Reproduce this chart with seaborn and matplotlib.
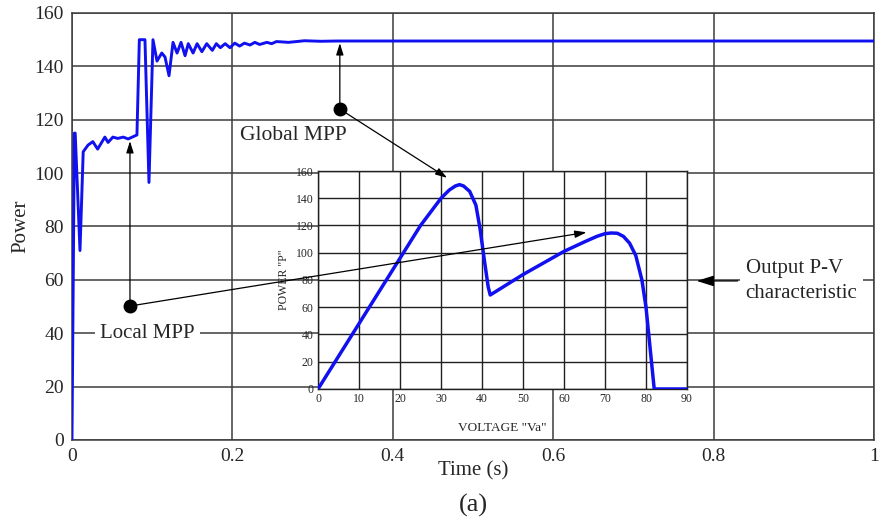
import pandas as pd
import seaborn as sns
import matplotlib.pyplot as plt

# -----------------------------
# Data
# -----------------------------
time_s = [0.000, 0.003, 0.004, 0.010, 0.014, 0.020, 0.026, 0.032, 0.041, 0.045,
          0.051, 0.057, 0.064, 0.070, 0.081, 0.084, 0.091, 0.096, 0.101, 0.106,
          0.112, 0.116, 0.121, 0.126, 0.131, 0.136, 0.141, 0.145, 0.151, 0.156,
          0.162, 0.168, 0.175, 0.180, 0.185, 0.191, 0.197, 0.203, 0.209, 0.215,
          0.222, 0.228, 0.234, 0.243, 0.249, 0.255, 0.270, 0.290, 0.310, 0.330,
          1.000]
power = [0, 115, 115, 71, 108, 110.5, 111.8, 109, 113.5, 111.5,
         113.5, 113, 113.5, 112.8, 114.3, 150, 150, 96.5, 150, 142,
         145, 143.5, 136.5, 149, 145, 149, 144, 148.5, 145, 148.5,
         145.5, 148.5, 146, 148.5, 147, 148.5, 147, 148.7, 147.6, 148.7,
         148, 149, 148.2, 149, 148.5, 149.3, 149, 149.6, 149.4, 149.5,
         149.5]

voltage = [0, 5, 10, 15, 20, 25, 28, 30, 32, 33.5, 34.5, 35.5, 37, 38.5, 39.5,
           40.5, 41.5, 42, 50, 60, 65, 68, 70, 71.5, 73, 74.5, 76, 77.5, 79,
           80, 81, 82, 90]
pv_power = [0, 24, 48, 72, 96, 120, 132, 140, 146, 149, 150, 149, 145, 135, 118,
            96, 75, 69, 84, 101, 108, 112, 114, 114.5, 114.3, 112, 107, 98, 80,
            60, 30, 0, 0]

time_ticks = [0, 0.2, 0.4, 0.6, 0.8, 1]
time_tick_labels = ['0', '0.2', '0.4', '0.6', '0.8', '1']
power_ticks = [0, 20, 40, 60, 80, 100, 120, 140, 160]
volt_ticks = [0, 10, 20, 30, 40, 50, 60, 70, 80, 90]

df_t = pd.DataFrame({'Time': time_s, 'Power': power})
df_pv = pd.DataFrame({'V': voltage, 'P': pv_power})

# -----------------------------
# Style
# -----------------------------
sns.set_style('white')
plt.rcParams['font.family'] = ['Liberation Serif', 'DejaVu Serif']

grid_col = '#3c3c3c'
line_col = '#1010f0'

fig = plt.figure(figsize=(8.81, 5.26), dpi=100)

# -----------------------------
# Main plot: power vs time
# -----------------------------
ax = fig.add_axes([0.0817, 0.1635, 0.9103, 0.8118])
sns.lineplot(x='Time', y='Power', data=df_t, ax=ax, color=line_col,
             linewidth=2.1, estimator=None, sort=False, zorder=3)
ax.set_xlim(0, 1)
ax.set_ylim(0, 160)
ax.set_xticks(time_ticks)
ax.set_xticklabels(time_tick_labels)
ax.set_yticks(power_ticks)
ax.grid(True, color=grid_col, linewidth=1.1)
ax.tick_params(length=0, labelsize=14, pad=6)
ax.set_xlabel('Time (s)', fontsize=15, labelpad=-3)
ax.set_ylabel('Power', fontsize=15, labelpad=3)
for s in ax.spines.values():
    s.set_color(grid_col)
    s.set_linewidth(1.1)

fig.text(0.537, 0.04, '(a)', fontsize=19, ha='center', va='center')

# -----------------------------
# Inset: P-V characteristic
# -----------------------------
ax_in = fig.add_axes([0.361, 0.2605, 0.4188, 0.4144])
ax_in.set_facecolor('white')
sns.lineplot(x='V', y='P', data=df_pv, ax=ax_in, color=line_col,
             linewidth=2.5, estimator=None, sort=False, zorder=3)
ax_in.set_xlim(0, 90)
ax_in.set_ylim(0, 160)
ax_in.set_xticks(volt_ticks)
ax_in.set_yticks(power_ticks)
ax_in.grid(True, color='#202020', linewidth=1.0)
ax_in.tick_params(length=0, labelsize=8.5, pad=3)
ax_in.set_xlabel('VOLTAGE "Va"', fontsize=9.5, labelpad=12)
ax_in.set_ylabel('POWER "P"', fontsize=8.5)
ax_in.yaxis.set_label_coords(-0.075, 0.5)
for s in ax_in.spines.values():
    s.set_color('#202020')
    s.set_linewidth(1.0)

# -----------------------------
# Annotations
# -----------------------------
arrow = dict(arrowstyle='-|>,head_length=0.7,head_width=0.22', color='black',
             lw=0.9, shrinkA=0, shrinkB=0)
txt_box = dict(boxstyle='square,pad=0.25', fc='white', ec='none')

local_dot = (0.0723, 50.2)
global_dot = (0.334, 124)

ax.plot(*local_dot, 'o', color='black', markersize=9, zorder=5)
ax.plot(*global_dot, 'o', color='black', markersize=9, zorder=5)

ax.annotate('', xy=(local_dot[0], 112), xytext=local_dot, arrowprops=arrow, zorder=4)
ax.annotate('', xy=(global_dot[0], 148.7), xytext=global_dot, arrowprops=arrow, zorder=4)

ax_in.annotate('', xy=(65.5, 115), xycoords='data', xytext=local_dot,
               textcoords=ax.transData, arrowprops=arrow, annotation_clip=False)
ax_in.annotate('', xy=(31.5, 155), xycoords='data', xytext=global_dot,
               textcoords=ax.transData, arrowprops=arrow, annotation_clip=False)

ax.text(0.276, 114, 'Global MPP', fontsize=15.5, ha='center', va='center',
        bbox=txt_box, zorder=4)
ax.text(0.094, 40, 'Local MPP', fontsize=15, ha='center', va='center',
        bbox=txt_box, zorder=4)
ax.annotate('Output P-V\ncharacteristic', xy=(0.779, 59.6), xytext=(0.84, 59.6),
            fontsize=15, ha='left', va='center', multialignment='left',
            linespacing=1.4, bbox=txt_box, zorder=4,
            arrowprops=dict(arrowstyle='-|>,head_length=0.7,head_width=0.22',
                            color='black', lw=0.9, shrinkA=2, shrinkB=0))

plt.savefig('out.png', dpi=100)
